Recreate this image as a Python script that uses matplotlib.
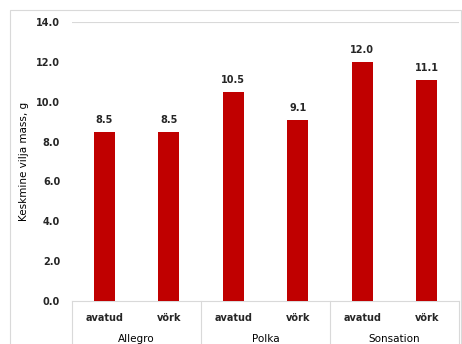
import matplotlib.pyplot as plt
from matplotlib.patches import Rectangle
from matplotlib.transforms import blended_transform_factory
import numpy as np

cultivars = ["Allegro", "Polka", "Sonsation"]
treatments = ["avatud", "vörk"]
mass = [8.5, 8.5, 10.5, 9.1, 12.0, 11.1]

bar_color = "#C00000"
line_color = "#D9D9D9"

fig = plt.figure(figsize=(4.62, 3.44), dpi=100)
ax = fig.add_axes([72 / 462, 43 / 344, 387 / 462, 279 / 344])

# outer chart frame
fig.patches.append(Rectangle((10 / 462, -0.05), 451 / 462, 1.05 - 10 / 344,
                             transform=fig.transFigure, fill=False,
                             edgecolor=line_color, linewidth=0.8))

x = np.arange(len(mass))
ax.bar(x, mass, width=0.33, color=bar_color, zorder=3)
for xi, v in zip(x, mass):
    ax.text(xi, v + 0.35, f"{v:.1f}", ha="center", va="bottom",
            fontsize=7, fontweight="bold", color="#262626")

ax.set_xlim(-0.5, len(mass) - 0.5)
ax.set_ylim(0, 14)
ax.set_yticks(np.arange(0, 14.1, 2))
ax.set_yticklabels([f"{t:.1f}" for t in np.arange(0, 14.1, 2)],
                   fontsize=7, fontweight="bold", color="#262626")
ax.tick_params(axis="y", length=0, pad=8.5)
ax.set_xticks([])
ax.axhline(14, color=line_color, linewidth=0.8, zorder=1)
for s in ["top", "right", "left"]:
    ax.spines[s].set_visible(False)
ax.spines["bottom"].set_color(line_color)
ax.spines["bottom"].set_linewidth(0.8)

ax.set_ylabel("Keskmine vilja mass, g", fontsize=7.5, color="#000000")
ax.yaxis.set_label_coords(-(72 - 29) / 387, 0.5)

# two-level category axis
trans = blended_transform_factory(ax.transData, fig.transFigure)
for i, xi in enumerate(x):
    ax.text(xi, 1 - 318 / 344, treatments[i % 2], transform=trans,
            ha="center", va="center", fontsize=7, fontweight="bold",
            color="#262626")
for g, name in enumerate(cultivars):
    ax.text(2 * g + 0.5, 1 - 339 / 344, name, transform=trans,
            ha="center", va="center", fontsize=7.5, color="#000000")
for b in [-0.5, 1.5, 3.5, 5.5]:
    ax.plot([b, b], [43 / 344, -0.05], transform=trans, color=line_color,
            linewidth=0.8, clip_on=False)

fig.savefig("out.png", dpi=100)
